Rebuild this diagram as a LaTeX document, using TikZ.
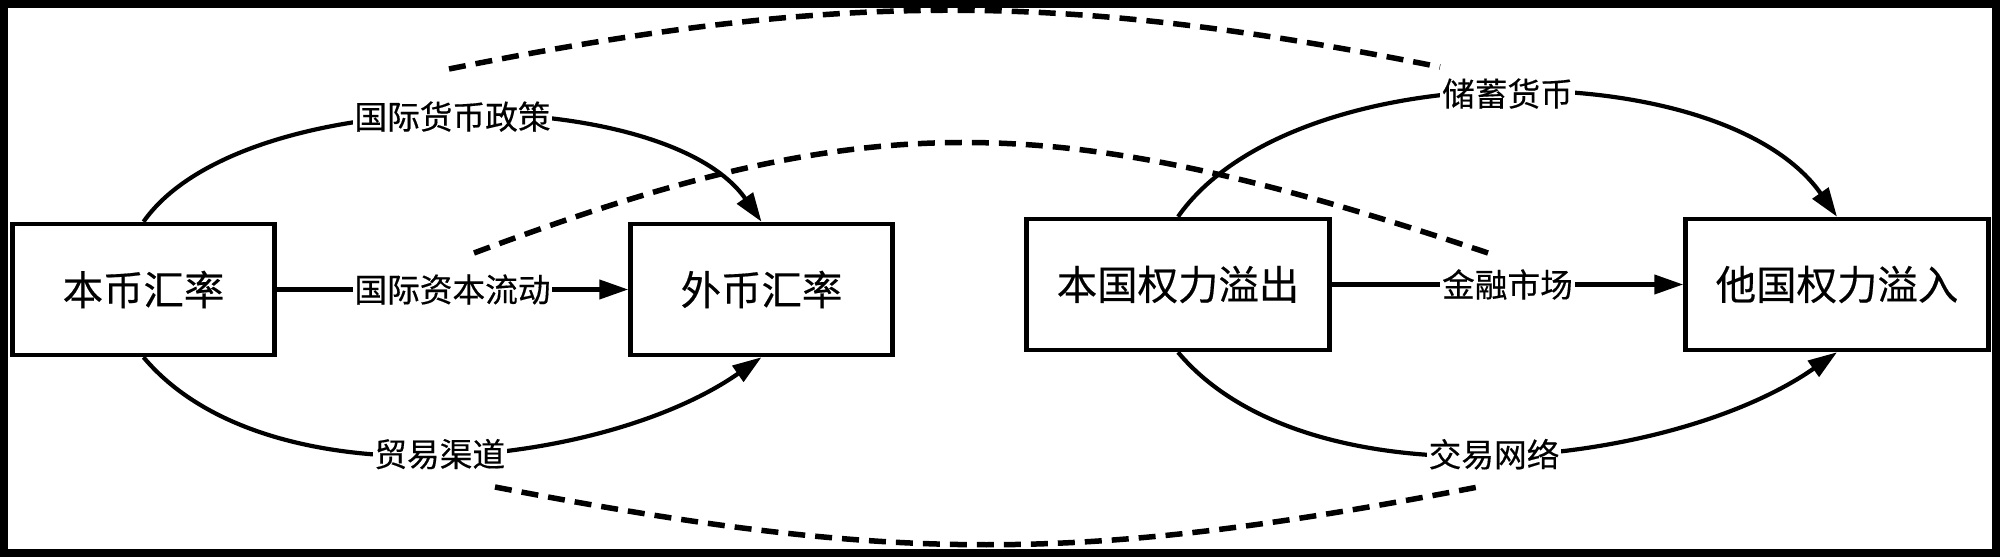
\documentclass[tikz,border=0pt]{standalone}
\usepackage{fontspec}
\newfontfamily\cjk[FakeBold=0.4]{Noto Sans CJK SC}
\usetikzlibrary{arrows.meta}

\begin{document}
\begin{tikzpicture}[
box/.style={draw, line width=0.045cm, inner sep=0pt, minimum height=1.31cm, font=\cjk\fontsize{11.5}{13}\selectfont},
lab/.style={fill=white, inner sep=0.5pt, font=\cjk\fontsize{9.3}{11}\selectfont},
arr/.style={line width=0.042cm, -{Triangle[length=0.29cm, width=0.19cm]}},
link/.style={line width=0.055cm, dash pattern=on 0.17cm off 0.1cm},
]

\useasboundingbox (0,0) rectangle (20,5.57);

% Frame:
\draw[line width=0.08cm] (0.04,0.04) rectangle (19.96,5.53);

\node[box, minimum width=2.62cm] at (1.435,2.675) (home) {本币汇率};
\node[box, minimum width=2.62cm] at (7.615,2.675) (foreign) {外币汇率};
\node[box, minimum width=3.03cm] at (11.78,2.725) (out) {本国权力溢出};
\node[box, minimum width=3.03cm] at (18.37,2.725) (in) {他国权力溢入};

% Left channels:
\draw[arr] (home.north) to[out=55, in=125, looseness=0.71] node[lab] {国际货币政策} (foreign.north);
\draw[arr] (home) -- node[lab] {国际资本流动} (foreign);
\draw[arr] (home.south) to[out=-50, in=-145, looseness=0.8] node[lab] {贸易渠道} (foreign.south);

% Right channels:
\draw[arr] (out.north) to[out=55, in=125, looseness=0.78] node[lab] {储蓄货币} (in.north);
\draw[arr] (out) -- node[lab] {金融市场} (in);
\draw[arr] (out.south) to[out=-50, in=-145, looseness=0.79] node[lab] {交易网络} (in.south);

% Dashed links:
\coordinate (t1) at (4.49,4.88);
\coordinate (t2) at (14.40,4.90);
\coordinate (m1) at (4.74,3.04);
\coordinate (m2) at (14.91,3.03);
\coordinate (b1) at (4.95,0.70);
\coordinate (b2) at (14.78,0.70);

\draw[link] (t1) .. controls (8.34,5.65) and (10.55,5.67) .. (t2);
\draw[link] (m1) .. controls (8.70,4.52) and (10.50,4.51) .. (m2);
\draw[link] (b1) .. controls (8.95,-0.07) and (10.78,-0.07) .. (b2);
\end{tikzpicture}
\end{document}
